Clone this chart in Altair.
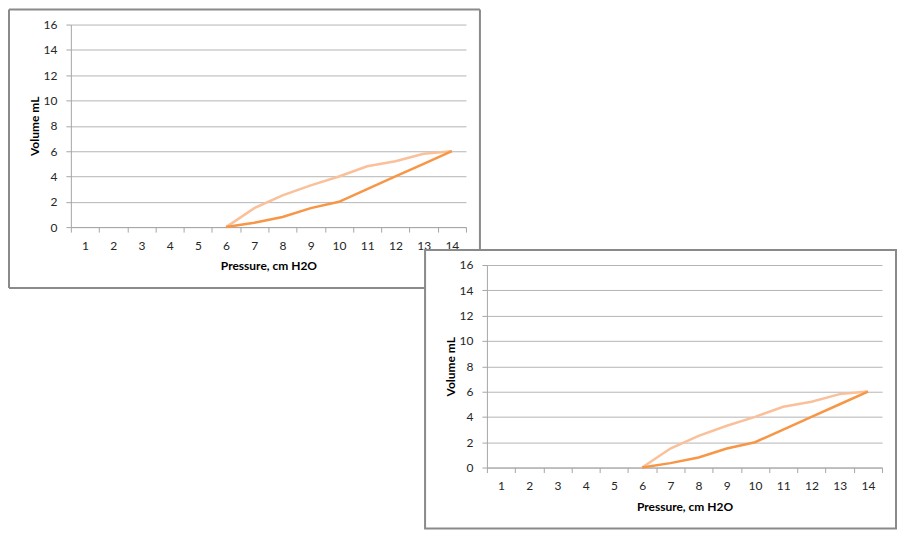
import altair as alt
import pandas as pd

# ---- data ----
pressure_cats = list(range(1, 15))
pressure_pts = [6, 7, 8, 9, 10, 11, 12, 13, 14]
volume_light = [0, 1.5, 2.5, 3.3, 4.0, 4.8, 5.2, 5.8, 6.0]
volume_dark = [0, 0.35, 0.8, 1.5, 2.0, 3.0, 4.0, 5.0, 6.0]
y_ticks = [0, 2, 4, 6, 8, 10, 12, 14, 16]

x_title = "Pressure, cm H2O"
y_title = "Volume mL"

df = pd.DataFrame({
    "p": pressure_pts * 2,
    "v": volume_light + volume_dark,
    "s": ["light"] * len(pressure_pts) + ["dark"] * len(pressure_pts),
})

# ---- layout constants ----
PW, PH = 396, 203            # plot area
L, T, R, B = 62, 15, 14, 61  # frame margins around plot
DX, DY = 417, 241            # offset of panel 2 relative to panel 1
FRAME = "#8a8a8a"
GRID = "#b5b5b5"
AXIS = "#a6a6a6"
FONT = "Lato"

x_enc = alt.X(
    "p:O",
    scale=alt.Scale(type="band", domain=pressure_cats, paddingInner=0, paddingOuter=0),
    bandPosition=0.5,
    axis=alt.Axis(
        title=x_title, labelAngle=0, tickBand="extent", grid=False,
        domainColor=AXIS, tickColor=AXIS, tickSize=5, labelPadding=8,
        labelFontSize=12, labelColor="#262626", labelFont=FONT,
        titleFontSize=12, titleFontWeight="bold", titleFont=FONT,
        titleColor="#000000", titlePadding=10,
    ),
)
y_enc = alt.Y(
    "v:Q",
    scale=alt.Scale(domain=[0, 16], nice=False),
    axis=alt.Axis(
        title=y_title, values=y_ticks, grid=True, gridColor=GRID,
        domainColor=AXIS, tickColor=AXIS, tickSize=5, labelPadding=9,
        labelFontSize=12, labelColor="#262626", labelFont=FONT,
        titleFontSize=12, titleFontWeight="bold", titleFont=FONT,
        titleColor="#000000", titlePadding=2,
    ),
)

one = pd.DataFrame({"k": [0]})


def panel(partial=None):
    base = alt.Chart(df)
    light = base.transform_filter(alt.datum.s == "light").mark_line(
        color="#FAC09A", strokeWidth=2.5).encode(x=x_enc, y=y_enc)
    dark = base.transform_filter(alt.datum.s == "dark").mark_line(
        color="#F79646", strokeWidth=2.5).encode(x=x_enc, y=y_enc)
    layers = [light, dark]
    if partial is None:
        frame = alt.Chart(one).mark_rect(
            fillOpacity=0, stroke=FRAME, strokeWidth=2).encode(
            x=alt.value(-L), x2=alt.value(PW + R),
            y=alt.value(-T), y2=alt.value(PH + B))
        layers.append(frame)
    else:
        cut_y, cut_x = partial
        rule = alt.Chart(one).mark_rule(color=FRAME, strokeWidth=2)
        layers += [
            rule.encode(x=alt.value(-L), x2=alt.value(PW + R), y=alt.value(-T)),
            rule.encode(x=alt.value(-L), y=alt.value(-T), y2=alt.value(PH + B)),
            rule.encode(x=alt.value(PW + R), y=alt.value(-T), y2=alt.value(cut_y)),
            rule.encode(x=alt.value(-L), x2=alt.value(cut_x), y=alt.value(PH + B)),
        ]
    return alt.layer(*layers).properties(width=PW, height=PH)


panel1 = panel(partial=(DY - T, DX - L))
panel2 = panel()

spacer = alt.Chart(one).mark_point(opacity=0).encode(
    x=alt.value(DX / 2), y=alt.value(5)).properties(width=DX, height=10)

chart = alt.vconcat(
    panel1,
    alt.hconcat(spacer, panel2, spacing=0, bounds="flush"),
    spacing=DY - PH,
    bounds="flush",
).properties(padding=0, background="#ffffff").configure_view(strokeWidth=0)

chart.save("out.html", embed_options={"renderer": "svg", "actions": False})
